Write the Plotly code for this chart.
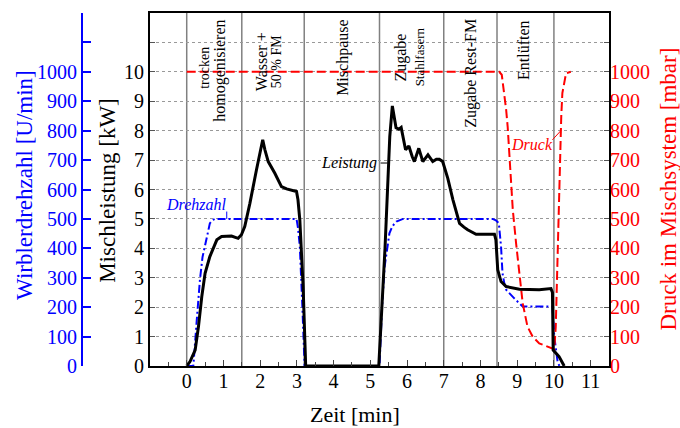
import plotly.graph_objects as go

# ---------------- data ----------------
time_leistung = [0.0, 0.09, 0.23, 0.32, 0.41, 0.50, 0.63, 0.82, 0.95, 1.22, 1.40, 1.49, 1.58, 1.72,
                 1.90, 2.04, 2.07, 2.13, 2.22, 2.40, 2.58, 2.72, 2.81, 2.99, 3.03, 3.08, 3.17, 3.24,
                 5.23, 5.30, 5.40, 5.48, 5.53, 5.60, 5.65, 5.70, 5.78, 5.84, 5.96, 6.05, 6.14, 6.20,
                 6.32, 6.43, 6.57, 6.70, 6.80, 6.88, 6.97, 7.11, 7.25, 7.43, 7.55, 7.65, 7.88, 8.38,
                 8.42, 8.47, 8.56, 8.70, 9.06, 9.60, 9.92, 9.96, 9.98, 10.14, 10.28]
leistung_kw = [0.0, 0.15, 0.54, 1.34, 2.36, 3.15, 3.72, 4.29, 4.40, 4.42, 4.34, 4.46, 4.74, 5.53,
               6.67, 7.57, 7.69, 7.35, 6.95, 6.55, 6.10, 6.02, 5.99, 5.93, 5.65, 4.97, 2.70, 0.0,
               0.0, 1.5, 4.0, 6.33, 7.8, 8.84, 8.40, 8.10, 8.05, 8.11, 7.35, 7.48, 7.12, 6.95,
               7.40, 6.95, 7.18, 6.95, 7.03, 7.03, 6.95, 6.38, 5.65, 4.85, 4.72, 4.63, 4.48, 4.48,
               4.29, 3.27, 2.87, 2.70, 2.61, 2.59, 2.63, 2.50, 0.54, 0.32, 0.0]

time_drehzahl = [0.0, 0.18, 0.27, 0.36, 0.43, 0.50, 0.57, 0.63, 0.70, 0.77, 2.99, 3.03, 3.08, 3.15,
                 3.21, 5.25, 5.32, 5.39, 5.45, 5.52, 5.60, 5.71, 5.89, 8.33, 8.42, 8.50, 8.56, 8.60,
                 8.65, 8.70, 8.92, 9.15, 9.96, 10.01, 10.10, 10.15]
drehzahl_rpm = [0, 0, 150, 293, 370, 406, 450, 485, 496, 500, 500, 470, 406, 200,
                0, 0, 200, 338, 400, 451, 475, 491, 500, 500, 495, 485, 406, 315,
                281, 259, 230, 202, 202, 100, 15, 0]

time_druck = [0.0, 8.51, 8.58, 8.65, 8.70, 8.74, 8.79, 8.88, 8.97, 9.06, 9.15, 9.28, 9.42, 9.60,
              9.92, 10.01, 10.05, 10.10, 10.14, 10.17, 10.20, 10.23, 10.33, 10.46]
druck_mbar = [1000, 1000, 990, 928, 870, 814, 700, 531, 417, 304, 213, 134, 100, 77,
              60, 57, 134, 361, 587, 757, 850, 928, 995, 1000]

phase_bounds = [0, 1.5, 3.2, 5.25, 7.0, 8.45, 10.0]
phase_texts = ["trocken", "homogenisieren", "Wasser +", "50 % FM", "Mischpause",
               "Zugabe", "Stahlfasern", "Zugabe Rest-FM", "Entlüften"]
phase_text_x = [0.50, 0.90, 2.04, 2.45, 4.26, 5.84, 6.34, 7.74, 9.19]
phase_text_y = [10.14, 10.03, 10.35, 10.35, 10.48, 10.49, 10.51, 9.97, 10.75]
phase_text_size = [14, 16, 16, 14, 16, 16, 13, 16, 16]

x_ticks = list(range(0, 12))
kw_ticks = list(range(0, 13))
rpm_ticks = list(range(0, 1201, 100))
mbar_ticks = list(range(0, 1001, 100))

SERIF = "Liberation Serif, Times New Roman, serif"
BLUE = "#0000ff"
RED = "#ff0000"

fig = go.Figure()

fig.add_trace(go.Scatter(x=time_drehzahl, y=drehzahl_rpm, yaxis="y", mode="lines",
                         line=dict(color=BLUE, width=2, dash="8px,3px,2px,3px"), name="Drehzahl"))
fig.add_trace(go.Scatter(x=time_druck, y=druck_mbar, yaxis="y2", mode="lines",
                         line=dict(color=RED, width=2, dash="9px,4px"), name="Druck"))
fig.add_trace(go.Scatter(x=time_leistung, y=leistung_kw, yaxis="y3", mode="lines",
                         line=dict(color="black", width=3), name="Leistung"))

shapes = []
for b in phase_bounds:
    shapes.append(dict(type="line", xref="x", yref="paper", x0=b, x1=b, y0=0, y1=1,
                       line=dict(color="#808080", width=1.5), layer="below"))
# leader lines for curve labels
shapes.append(dict(type="line", xref="x", yref="y", x0=1.09, x1=1.09, y0=500, y1=525,
                   line=dict(color=BLUE, width=1)))
shapes.append(dict(type="line", xref="x", yref="y3", x0=5.28, x1=5.47, y0=6.9, y1=6.9,
                   line=dict(color="black", width=1)))
shapes.append(dict(type="line", xref="x", yref="y2", x0=9.96, x1=10.19, y0=769, y1=800,
                   line=dict(color=RED, width=1)))

annotations = []
for t, x, y, s in zip(phase_texts, phase_text_x, phase_text_y, phase_text_size):
    annotations.append(dict(text=t, x=x, y=y, xref="x", yref="y3", showarrow=False,
                            xanchor="center", yanchor="middle",
                            textangle=-90, font=dict(family=SERIF, size=s, color="black")))

annotations += [
    dict(text="<i>Drehzahl</i>", x=0.27, y=5.48, xref="x", yref="y3", showarrow=False,
         xanchor="center", yanchor="middle", font=dict(family=SERIF, size=16, color=BLUE)),
    dict(text="<i>Leistung</i>", x=4.41, y=6.9, xref="x", yref="y3", showarrow=False,
         xanchor="center", yanchor="middle", font=dict(family=SERIF, size=16, color="black")),
    dict(text="<i>Druck</i>", x=9.40, y=7.52, xref="x", yref="y3", showarrow=False,
         xanchor="center", yanchor="middle", font=dict(family=SERIF, size=16, color=RED)),
    dict(text="Wirblerdrehzahl [U/min]", x=0.041, y=0.513, xref="paper", yref="paper",
         xanchor="center", yanchor="middle",
         showarrow=False, textangle=-90, font=dict(family=SERIF, size=23, color=BLUE)),
    dict(text="Mischleistung [kW]", x=0.1773, y=0.499, xref="paper", yref="paper",
         xanchor="center", yanchor="middle",
         showarrow=False, textangle=-90, font=dict(family=SERIF, size=23, color="black")),
    dict(text="Druck im Mischsystem [mbar]", x=1.097, y=0.5, xref="paper", yref="paper",
         xanchor="center", yanchor="middle",
         showarrow=False, textangle=-90, font=dict(family=SERIF, size=23, color=RED)),
    dict(text="Zeit [min]", x=0.583, y=-0.136, xref="paper", yref="paper",
         xanchor="center", yanchor="middle",
         showarrow=False, font=dict(family=SERIF, size=22, color="black")),
]

fig.update_layout(
    width=680, height=428,
    margin=dict(l=0, r=71, t=13, b=62),
    paper_bgcolor="white", plot_bgcolor="white", showlegend=False,
    font=dict(family=SERIF, size=20, color="black"),
    xaxis=dict(domain=[0.2463, 1], range=[-1, 11.5], anchor="y3",
               tickvals=x_ticks, ticks="inside", ticklen=6, tickcolor="#444",
               ticklabelstandoff=-4,
               showgrid=False, zeroline=False, showline=True, linecolor="black",
               linewidth=2, mirror=True, tickfont=dict(family=SERIF, size=20),
               minor=dict(dtick=0.5, ticks="inside", ticklen=4, tickcolor="#444", showgrid=False)),
    yaxis=dict(range=[0, 1200], anchor="free", position=0.1346, side="left",
               tickvals=rpm_ticks,
               ticktext=[str(v) if v <= 1000 else "" for v in rpm_ticks],
               ticks="inside", ticklen=8, tickwidth=2, tickcolor=BLUE,
               showline=True, linecolor=BLUE, linewidth=2, showgrid=False, zeroline=False,
               tickfont=dict(family=SERIF, size=20, color=BLUE)),
    yaxis2=dict(range=[0, 1200], overlaying="y", anchor="x", side="right",
                tickvals=mbar_ticks, ticks="", showline=False, showgrid=False, zeroline=False,
                tickfont=dict(family=SERIF, size=20, color=RED)),
    yaxis3=dict(range=[0, 12], overlaying="y", anchor="x", side="left",
                tickvals=kw_ticks,
                ticktext=[str(v) if v <= 10 else "" for v in kw_ticks],
                ticks="inside", ticklen=5, tickcolor="#555",
                showline=True, linecolor="black", linewidth=2, mirror="ticks",
                showgrid=True, gridcolor="#999999", griddash="dot", gridwidth=1,
                zeroline=False, tickfont=dict(family=SERIF, size=20, color="black")),
    shapes=shapes,
    annotations=annotations,
)

fig.write_html("out.html", config={"displayModeBar": False},
               post_script="document.body.style.margin='0px';document.body.style.overflow='hidden';")
